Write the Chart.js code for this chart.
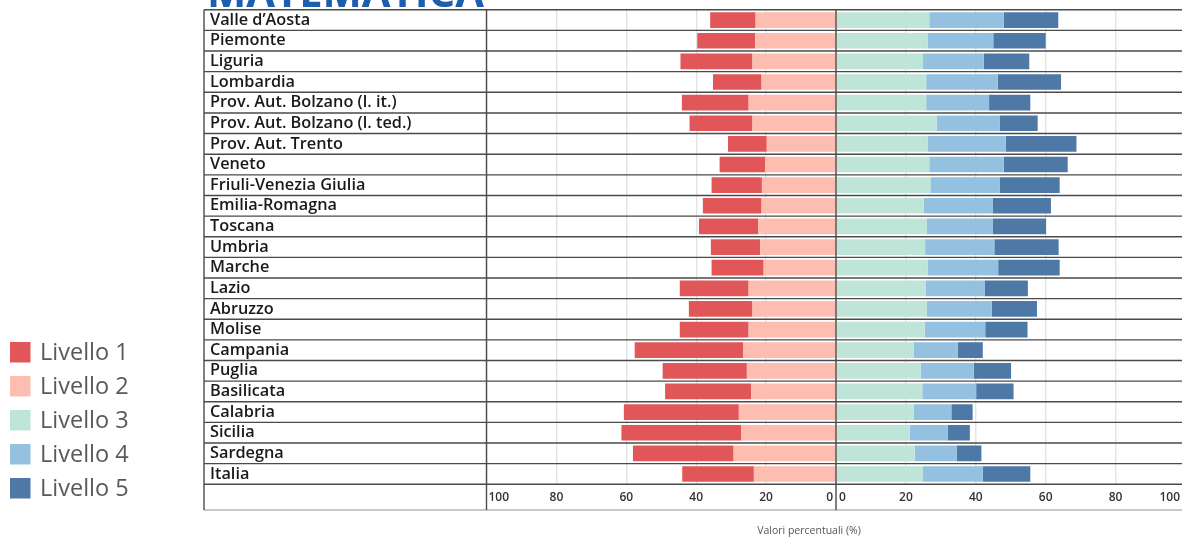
<!DOCTYPE html>
<html><head><meta charset="utf-8">
<script src="https://cdn.jsdelivr.net/npm/chart.js@4.4.0/dist/chart.umd.min.js"></script>
<style>
html,body{margin:0;padding:0;background:#fff;overflow:hidden;}
#wrap{position:relative;width:1200px;height:537px;}
</style></head><body>
<div id="wrap"><canvas id="c" width="1200" height="537"></canvas></div>
<script>
const regions = ['Valle d’Aosta','Piemonte','Liguria','Lombardia','Prov. Aut. Bolzano (l. it.)','Prov. Aut. Bolzano (l. ted.)','Prov. Aut. Trento','Veneto','Friuli-Venezia Giulia','Emilia-Romagna','Toscana','Umbria','Marche','Lazio','Abruzzo','Molise','Campania','Puglia','Basilicata','Calabria','Sicilia','Sardegna','Italia'];
const livello1 = [13.0,16.6,20.6,13.9,19.1,18.0,11.1,13.0,14.4,16.8,16.9,14.1,14.9,19.7,18.2,19.7,31.1,24.1,24.6,32.9,34.3,28.8,20.5];
const livello2 = [23.0,23.1,23.9,21.3,25.0,23.9,19.8,20.3,21.2,21.3,22.3,21.7,20.7,25.0,23.9,25.0,26.5,25.5,24.3,27.8,27.1,29.3,23.5];
const livello3 = [26.7,26.3,24.9,25.8,25.8,28.8,26.3,26.7,27.0,25.1,25.9,25.5,26.3,25.6,25.9,25.4,22.3,24.2,24.7,22.3,21.1,22.5,24.9];
const livello4 = [21.3,18.7,17.4,20.5,18.0,18.0,22.3,21.3,19.8,19.7,18.9,19.8,20.1,16.9,18.7,17.3,12.5,15.2,15.4,10.7,10.9,12.0,17.1];
const livello5 = [15.6,15.0,13.0,18.1,11.8,10.9,20.2,18.3,17.2,16.7,15.3,18.4,17.6,12.4,12.9,12.1,7.2,10.7,10.7,6.1,6.3,7.1,13.6];
const levelLabels = ['Livello 1','Livello 2','Livello 3','Livello 4','Livello 5'];
const levelColors = ['#e15759','#fdbdb1','#bfe4d8','#93c1df','#4e79a7'];
const leftTicks = [100,80,60,40,20,0];
const rightTicks = [0,20,40,60,80,100];
const axisTitle = 'Valori percentuali (%)';
const chartTitle = 'MATEMATICA';

const VIEW_W = 1182;

const decor = {
  id: 'decor',
  beforeDraw(chart) {
    const ctx = chart.ctx;
    ctx.save();
    ctx.fillStyle = '#fff';
    ctx.fillRect(0, 0, chart.width, chart.height);
    ctx.restore();
  },
  afterDatasetsDraw(chart) {
    const ctx = chart.ctx;
    const ca = chart.chartArea;
    const xs = chart.scales.x;
    const rowH = (ca.bottom - ca.top) / regions.length;
    const tableLeft = 204;
    const axisBottom = ca.bottom + 25.7;
    ctx.save();
    // row separators
    ctx.strokeStyle = '#4a4a4a';
    ctx.lineWidth = 1.4;
    for (let i = 0; i <= regions.length; i++) {
      const y = ca.top + i * rowH;
      ctx.beginPath();
      ctx.moveTo(tableLeft, y);
      ctx.lineTo(chart.width, y);
      ctx.stroke();
    }
    // axis row bottom
    ctx.strokeStyle = '#c8c8c8';
    ctx.lineWidth = 2.2;
    ctx.beginPath();
    ctx.moveTo(tableLeft, axisBottom);
    ctx.lineTo(chart.width, axisBottom);
    ctx.stroke();
    // verticals: table left, column border, center
    ctx.strokeStyle = '#4a4a4a';
    ctx.lineWidth = 1.4;
    [tableLeft, xs.getPixelForValue(-100), xs.getPixelForValue(0)].forEach(x => {
      ctx.beginPath();
      ctx.moveTo(x, ca.top);
      ctx.lineTo(x, axisBottom);
      ctx.stroke();
    });
    // tick labels
    ctx.fillStyle = '#333';
    ctx.font = '600 12px "Open Sans"';
    ctx.textBaseline = 'middle';
    const ty = ca.bottom + 13.5;
    const drawTick = (txt, x, side, v) => {
      const w = ctx.measureText(txt).width;
      let align = 'center', px = x;
      if (v === 0) { align = side < 0 ? 'right' : 'left'; px = side < 0 ? x - 3 : x + 3; }
      else if (side < 0 && x - w / 2 < ca.left + 2) { align = 'left'; px = ca.left + 2; }
      else if (side > 0 && x + w / 2 > VIEW_W - 2) { align = 'right'; px = VIEW_W - 2; }
      ctx.textAlign = align;
      ctx.fillText(txt, px, ty);
    };
    leftTicks.forEach(v => drawTick(String(v), xs.getPixelForValue(-v), -1, v));
    rightTicks.forEach(v => drawTick(String(v), xs.getPixelForValue(v), 1, v));
    // axis title
    ctx.fillStyle = '#555';
    ctx.font = '10.5px "Open Sans"';
    ctx.textAlign = 'center';
    ctx.fillText(axisTitle, 809, 531);
    // legend
    levelLabels.forEach((lab, i) => {
      const y0 = 342 + 34 * i;
      ctx.fillStyle = levelColors[i];
      ctx.fillRect(10, y0, 20.5, 20.5);
      ctx.fillStyle = '#595959';
      ctx.font = '23.5px "Open Sans"';
      ctx.textAlign = 'left';
      ctx.textBaseline = 'middle';
      ctx.fillText(lab, 40, y0 + 11);
    });
    // title (cropped at top)
    ctx.font = 'bold 100px "Open Sans"';
    const tw = ctx.measureText(chartTitle).width;
    const fs = 100 * 277 / tw;
    ctx.font = 'bold ' + fs.toFixed(1) + 'px "Open Sans"';
    ctx.fillStyle = '#1c5fae';
    ctx.textAlign = 'left';
    ctx.textBaseline = 'alphabetic';
    ctx.fillText(chartTitle, 207, 7);
    ctx.restore();
  }
};

const neg = a => a.map(v => -v);
const datasets = [
  {label: levelLabels[1], data: neg(livello2), backgroundColor: levelColors[1]},
  {label: levelLabels[0], data: neg(livello1), backgroundColor: levelColors[0]},
  {label: levelLabels[2], data: livello3, backgroundColor: levelColors[2]},
  {label: levelLabels[3], data: livello4, backgroundColor: levelColors[3]},
  {label: levelLabels[4], data: livello5, backgroundColor: levelColors[4]}
].map(d => Object.assign(d, {barPercentage: 0.76, categoryPercentage: 1.0, borderWidth: 0}));

new Chart(document.getElementById('c'), {
  type: 'bar',
  data: {labels: regions, datasets},
  plugins: [decor],
  options: {
    indexAxis: 'y',
    responsive: false,
    animation: false,
    devicePixelRatio: 1,
    layout: {padding: {left: 210, right: 14.5, top: 9.7, bottom: 52.7}},
    plugins: {legend: {display: false}, tooltip: {enabled: false}},
    scales: {
      x: {
        type: 'linear', min: -100, max: 100, stacked: true,
        ticks: {stepSize: 20, display: false},
        grid: {drawTicks: false, color: '#e3e3e3', lineWidth: 1.4},
        border: {display: false}
      },
      y: {
        stacked: true,
        afterFit: s => { s.width = 276.5; },
        ticks: {autoSkip: false, crossAlign: 'far', padding: 0, color: '#1a1a1a', font: {family: 'Open Sans', weight: '600', size: 16.3}},
        grid: {display: false},
        border: {display: false}
      }
    }
  }
});
</script>
</body></html>
